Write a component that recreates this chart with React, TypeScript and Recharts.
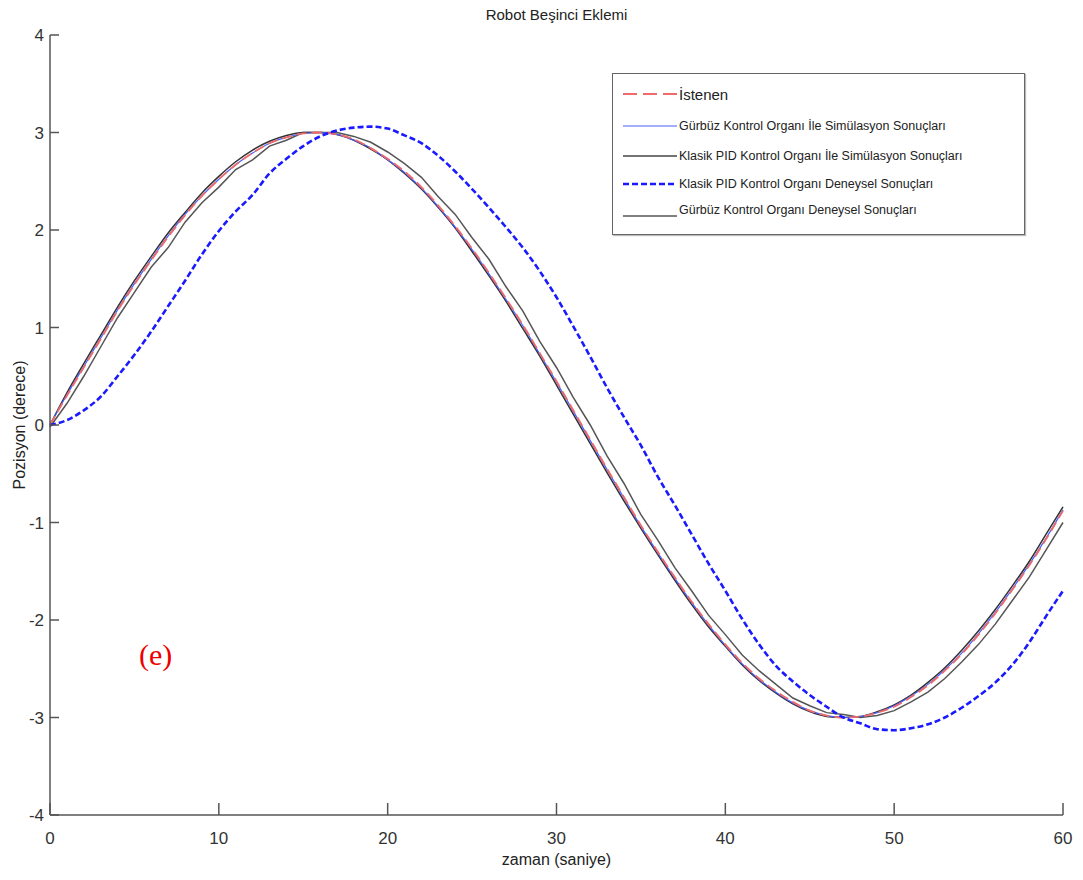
import { LineChart, Line, XAxis, YAxis } from "recharts";

// zaman (saniye)
const zaman = [
  0, 1, 2, 3, 4, 5, 6, 7, 8, 9, 10, 11, 12, 13, 14, 15, 16, 17, 18, 19, 20,
  21, 22, 23, 24, 25, 26, 27, 28, 29, 30, 31, 32, 33, 34, 35, 36, 37, 38, 39, 40,
  41, 42, 43, 44, 45, 46, 47, 48, 49, 50, 51, 52, 53, 54, 55, 56, 57, 58, 59, 60,
];

const istenen = [
  0.0, 0.3, 0.59, 0.88, 1.17, 1.44, 1.69, 1.93, 2.15, 2.35, 2.52, 2.67, 2.79, 2.89, 2.95, 2.99, 3.0, 2.98, 2.93, 2.84, 2.73,
  2.6, 2.44, 2.25, 2.04, 1.81, 1.56, 1.3, 1.03, 0.74, 0.45, 0.15, -0.15, -0.45, -0.74, -1.03, -1.3, -1.56, -1.81, -2.04, -2.25,
  -2.44, -2.6, -2.73, -2.84, -2.93, -2.98, -3.0, -2.99, -2.95, -2.89, -2.79, -2.67, -2.52, -2.35, -2.15, -1.93, -1.69, -1.44, -1.17, -0.88,
];

const gurbuzSim = [
  0.0, 0.31, 0.6, 0.89, 1.18, 1.45, 1.7, 1.94, 2.16, 2.35, 2.52, 2.67, 2.79, 2.89, 2.95, 2.99, 3.0, 2.98, 2.92, 2.84, 2.72,
  2.59, 2.43, 2.24, 2.03, 1.8, 1.55, 1.29, 1.02, 0.73, 0.44, 0.14, -0.16, -0.46, -0.75, -1.04, -1.31, -1.57, -1.82, -2.05, -2.26,
  -2.45, -2.61, -2.74, -2.85, -2.93, -2.98, -3.0, -2.99, -2.95, -2.88, -2.78, -2.66, -2.51, -2.34, -2.14, -1.92, -1.68, -1.43, -1.16, -0.87,
];

const klasikSim = [
  0.0, 0.33, 0.63, 0.92, 1.21, 1.48, 1.73, 1.97, 2.18, 2.38, 2.55, 2.7, 2.82, 2.91, 2.97, 3.0, 3.0, 2.98, 2.92, 2.83, 2.72,
  2.58, 2.42, 2.23, 2.02, 1.78, 1.53, 1.27, 0.99, 0.71, 0.41, 0.11, -0.19, -0.49, -0.78, -1.06, -1.33, -1.59, -1.84, -2.07, -2.27,
  -2.46, -2.62, -2.75, -2.86, -2.94, -2.99, -3.0, -2.99, -2.94, -2.87, -2.77, -2.64, -2.49, -2.31, -2.11, -1.89, -1.65, -1.4, -1.12, -0.84,
];

const klasikDeney = [
  0.0, 0.05, 0.15, 0.29, 0.5, 0.72, 0.96, 1.22, 1.48, 1.75, 1.99, 2.19, 2.36, 2.58, 2.73, 2.86, 2.96, 3.02, 3.05, 3.06, 3.04,
  2.97, 2.89, 2.76, 2.6, 2.42, 2.23, 2.03, 1.82, 1.58, 1.31, 1.01, 0.7, 0.38, 0.08, -0.21, -0.53, -0.82, -1.12, -1.42, -1.7,
  -1.99, -2.25, -2.47, -2.63, -2.77, -2.89, -3.0, -3.06, -3.12, -3.13, -3.11, -3.07, -3.0, -2.9, -2.78, -2.64, -2.46, -2.23, -1.96, -1.7,
];

const gurbuzDeney = [
  -0.02, 0.22, 0.5, 0.8, 1.1, 1.36, 1.62, 1.82, 2.08, 2.28, 2.44, 2.62, 2.72, 2.86, 2.92, 3.0, 3.0, 3.0, 2.96, 2.9, 2.8,
  2.68, 2.54, 2.34, 2.16, 1.92, 1.7, 1.42, 1.17, 0.86, 0.59, 0.28, 0.0, -0.32, -0.6, -0.92, -1.18, -1.46, -1.7, -1.95, -2.15,
  -2.36, -2.52, -2.66, -2.8, -2.88, -2.95, -2.97, -3.0, -2.98, -2.93, -2.84, -2.74, -2.6, -2.43, -2.25, -2.04, -1.8, -1.56, -1.28, -1.0,
];

const xTicks = [0, 10, 20, 30, 40, 50, 60];
const yTicks = [-4, -3, -2, -1, 0, 1, 2, 3, 4];

const data = zaman.map((t, i) => ({
  t,
  istenen: istenen[i],
  gurbuzSim: gurbuzSim[i],
  klasikSim: klasikSim[i],
  klasikDeney: klasikDeney[i],
  gurbuzDeney: gurbuzDeney[i],
}));

const axisColor = "#555";
const tickFont = { fill: "#333", fontSize: 17, fontFamily: "'Liberation Sans Narrow', 'Liberation Sans', Arial, sans-serif" };
const sans = "'Liberation Sans', Arial, sans-serif";

const legendItems = [
  { label: "İstenen", color: "#f06a6a", dash: "14 6", width: 2, size: 15 },
  { label: "Gürbüz Kontrol Organı İle Simülasyon Sonuçları", color: "#4a5cff", dash: undefined, width: 1.2, size: 12.5 },
  { label: "Klasik PID Kontrol Organı İle Simülasyon Sonuçları", color: "#444", dash: undefined, width: 1.5, size: 12.5 },
  { label: "Klasik PID Kontrol Organı Deneysel Sonuçları", color: "#1a1aff", dash: "6 3", width: 2.5, size: 12.5 },
  { label: "Gürbüz Kontrol Organı Deneysel Sonuçları", color: "#555", dash: undefined, width: 1.5, size: 12.5 },
];
const legendRows = [20, 52, 82, 110, 136];

export default function App() {
  return (
    <div style={{ position: "absolute", left: 0, top: 0, width: 1083, height: 880, background: "#fff" }}>
      <LineChart width={1083} height={880} data={data} margin={{ top: 35, right: 20, left: 0, bottom: 0 }}>
        <XAxis
          dataKey="t"
          type="number"
          domain={[0, 60]}
          ticks={xTicks}
          height={65}
          tickSize={-12}
          tickMargin={29}
          tick={tickFont}
          stroke={axisColor}
          strokeWidth={1.5}
          interval={0}
        />
        <XAxis
          xAxisId="top"
          dataKey="t"
          type="number"
          orientation="top"
          domain={[0, 60]}
          ticks={xTicks}
          height={0}
          tickSize={-12}
          tick={false}
          stroke={axisColor}
          strokeWidth={1.5}
        />
        <YAxis
          type="number"
          domain={[-4, 4]}
          ticks={yTicks}
          width={50}
          tickSize={-9}
          tickMargin={15}
          tick={tickFont}
          stroke={axisColor}
          strokeWidth={1.5}
          interval={0}
        />
        <YAxis
          yAxisId="right"
          orientation="right"
          type="number"
          domain={[-4, 4]}
          ticks={yTicks}
          width={0}
          tickSize={-9}
          tick={false}
          stroke={axisColor}
          strokeWidth={1.5}
        />
        <Line type="linear" dataKey="gurbuzDeney" stroke="#555" strokeWidth={1.5} dot={false} isAnimationActive={false} />
        <Line type="monotone" dataKey="klasikSim" stroke="#333" strokeWidth={1.5} dot={false} isAnimationActive={false} />
        <Line type="monotone" dataKey="gurbuzSim" stroke="#4a5cff" strokeWidth={1.2} dot={false} isAnimationActive={false} />
        <Line type="monotone" dataKey="istenen" stroke="#f06a6a" strokeWidth={1.8} strokeDasharray="10 5" dot={false} isAnimationActive={false} />
        <Line type="monotone" dataKey="klasikDeney" stroke="#1a1aff" strokeWidth={2.6} strokeDasharray="6 3" dot={false} isAnimationActive={false} />
      </LineChart>

      <div style={{ position: "absolute", left: 0, width: 1113, top: 6, textAlign: "center", fontFamily: sans, fontSize: 15, color: "#222" }}>
        Robot Beşinci Eklemi
      </div>
      <div style={{ position: "absolute", left: 0, width: 1113, top: 851, textAlign: "center", fontFamily: sans, fontSize: 16, color: "#222" }}>
        zaman (saniye)
      </div>
      <div
        style={{
          position: "absolute",
          left: 20,
          top: 425,
          transform: "translate(-50%, -50%) rotate(-90deg)",
          whiteSpace: "nowrap",
          fontFamily: sans,
          fontSize: 16,
          color: "#222",
        }}
      >
        Pozisyon (derece)
      </div>
      <div style={{ position: "absolute", left: 139, top: 638, fontFamily: "'Liberation Serif', 'Times New Roman', serif", fontSize: 30, color: "#e00" }}>
        (e)
      </div>

      <div
        style={{
          position: "absolute",
          left: 612,
          top: 73,
          width: 411,
          height: 160,
          border: "1.5px solid #666",
          background: "#fff",
          boxShadow: "1px 1px 1px #bbb",
        }}
      >
        {legendItems.map((item, i) => (
          <div key={item.label} style={{ position: "absolute", left: 0, top: legendRows[i] - 10, height: 20, display: "flex", alignItems: "center" }}>
            <svg width={58} height={20} style={{ marginLeft: 8 }}>
              <line x1={2} y1={i === 4 ? 16 : 10} x2={56} y2={i === 4 ? 16 : 10} stroke={item.color} strokeWidth={item.width} strokeDasharray={item.dash} />
            </svg>
            <span style={{ fontFamily: sans, fontSize: item.size, color: "#222", whiteSpace: "nowrap" }}>{item.label}</span>
          </div>
        ))}
      </div>
    </div>
  );
}
